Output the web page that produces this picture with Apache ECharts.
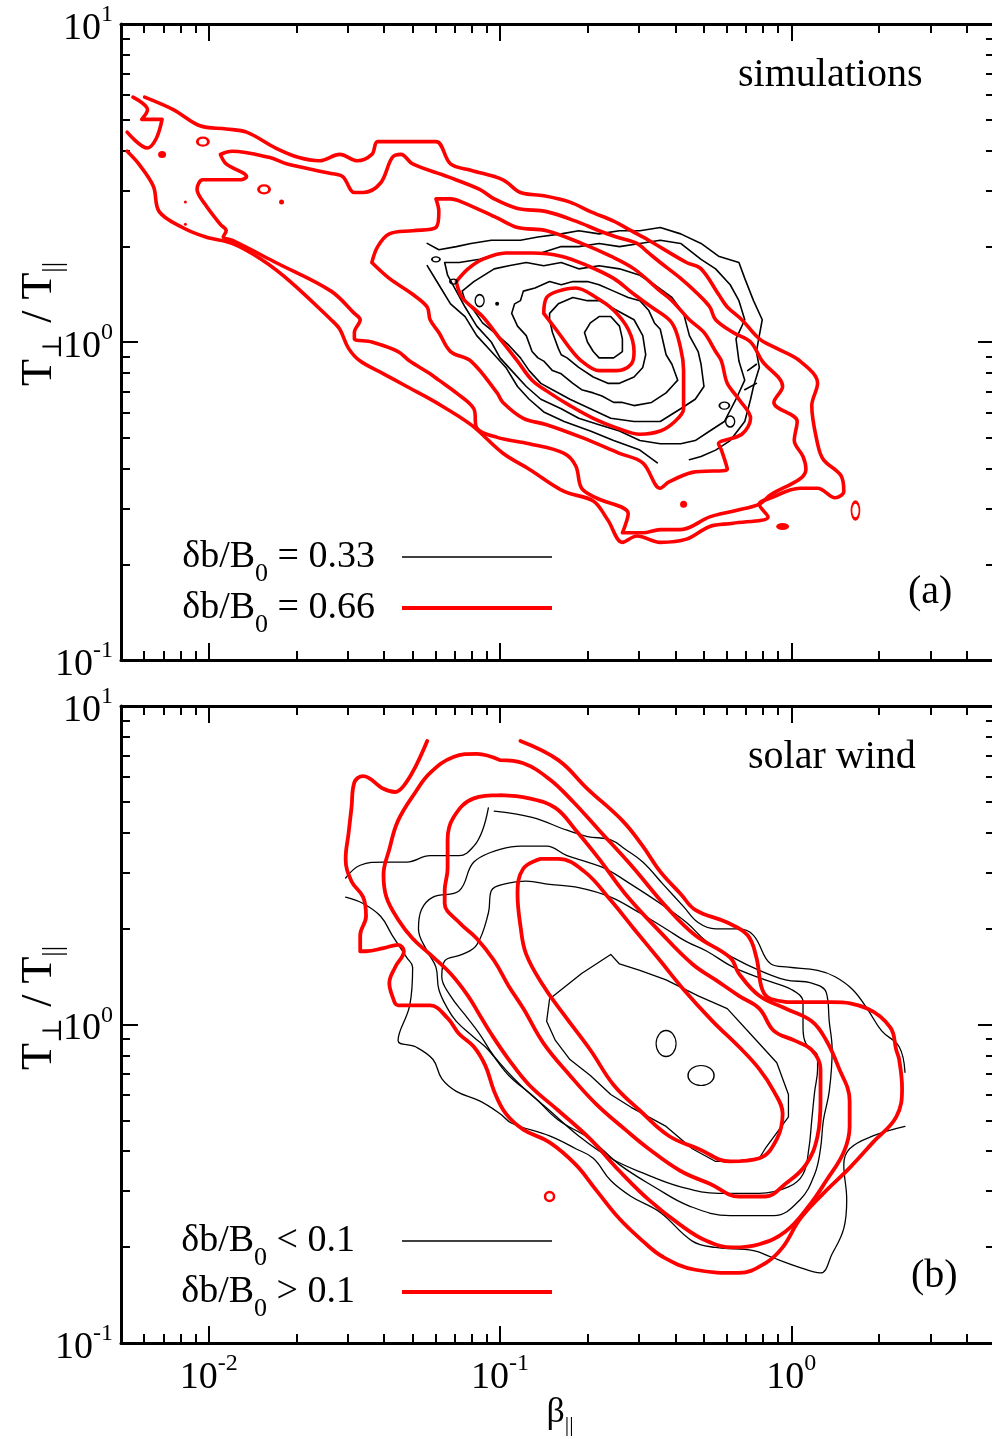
<!DOCTYPE html>
<html><head><meta charset="utf-8">
<script src="https://cdn.jsdelivr.net/npm/echarts@6/dist/echarts.min.js"></script>
<style>html,body{margin:0;padding:0;background:#fff}#c{width:992px;height:1439px}</style>
</head><body><div id="c"></div>
<script>
// ---------- axis tick values ----------
const xMajor = [0.01, 0.1, 1];
const xMinor = [0.006,0.007,0.008,0.009,0.02,0.03,0.04,0.05,0.06,0.07,0.08,0.09,0.2,0.3,0.4,0.5,0.6,0.7,0.8,0.9,2,3,4];
const yMajor = [0.1, 1, 10];
const yMinor = [0.2,0.3,0.4,0.5,0.6,0.7,0.8,0.9,2,3,4,5,6,7,8,9];

// ---------- legend names ----------
const simNames = ['δb/B0 = 0.33', 'δb/B0 = 0.66'];
const swNames  = ['δb/B0 < 0.1', 'δb/B0 > 0.1'];

// ---------- contour points, as [log10(beta_par), log10(Tperp/Tpar)] ----------
// panel (a) simulations, red (db/B0 = 0.66)
const simRedEdge = [[-2.26,0.77],[-2.21,0.73],[-2.23,0.70],[-2.16,0.70],[-2.18,0.64],[-2.21,0.61],[-2.28,0.66]];
const simRed1 = [[-2.22,0.77],[-2.12,0.73],[-2.03,0.68],[-1.94,0.67],[-1.87,0.66],[-1.77,0.61],[-1.69,0.58],[-1.62,0.57],[-1.55,0.59],[-1.49,0.57],[-1.44,0.59],[-1.42,0.63],[-1.35,0.63],[-1.22,0.63],[-1.17,0.56],[-1.10,0.54],[-0.99,0.51],[-0.93,0.47],[-0.85,0.46],[-0.76,0.44],[-0.69,0.41],[-0.61,0.38],[-0.55,0.35],[-0.49,0.32],[-0.36,0.25],[-0.31,0.23],[-0.25,0.15],[-0.22,0.11],[-0.17,0.07],[-0.11,0.01],[-0.05,-0.02],[0.03,-0.06],[0.09,-0.13],[0.07,-0.20],[0.09,-0.32],[0.11,-0.37],[0.17,-0.42],[0.18,-0.47],[0.15,-0.49],[0.09,-0.46],[0.03,-0.46],[-0.07,-0.49],[-0.11,-0.51],[-0.08,-0.55],[-0.20,-0.57],[-0.28,-0.58],[-0.36,-0.62],[-0.45,-0.63],[-0.53,-0.61],[-0.58,-0.63],[-0.63,-0.56],[-0.68,-0.50],[-0.78,-0.47],[-0.90,-0.40],[-0.99,-0.35],[-1.10,-0.26],[-1.22,-0.19],[-1.32,-0.14],[-1.40,-0.10],[-1.48,-0.06],[-1.52,-0.02],[-1.55,0.04],[-1.58,0.07],[-1.72,0.19],[-1.82,0.26],[-1.92,0.31],[-2.01,0.33],[-2.09,0.36],[-2.17,0.41],[-2.19,0.49],[-2.24,0.56],[-2.28,0.60]];
const simRed2 = [[-1.96,0.59],[-1.92,0.60],[-1.79,0.58],[-1.73,0.56],[-1.58,0.53],[-1.54,0.52],[-1.50,0.47],[-1.47,0.47],[-1.41,0.50],[-1.37,0.58],[-1.34,0.59],[-1.30,0.56],[-1.18,0.52],[-1.07,0.48],[-1.02,0.45],[-0.94,0.42],[-0.84,0.41],[-0.74,0.38],[-0.66,0.35],[-0.60,0.33],[-0.53,0.31],[-0.49,0.28],[-0.45,0.25],[-0.38,0.20],[-0.32,0.15],[-0.28,0.11],[-0.26,0.07],[-0.20,0.03],[-0.14,0.00],[-0.10,-0.06],[-0.03,-0.14],[-0.06,-0.19],[0.02,-0.25],[0.01,-0.31],[0.04,-0.36],[0.05,-0.40],[0.03,-0.43],[-0.07,-0.48],[-0.11,-0.51],[-0.19,-0.53],[-0.28,-0.55],[-0.38,-0.59],[-0.45,-0.59],[-0.51,-0.60],[-0.58,-0.60],[-0.56,-0.54],[-0.67,-0.49],[-0.72,-0.46],[-0.74,-0.39],[-0.78,-0.35],[-0.90,-0.32],[-1.01,-0.30],[-1.08,-0.27],[-1.09,-0.21],[-1.15,-0.16],[-1.21,-0.12],[-1.24,-0.10],[-1.31,-0.06],[-1.35,-0.03],[-1.44,0.00],[-1.50,0.01],[-1.50,0.03],[-1.48,0.07],[-1.50,0.09],[-1.58,0.16],[-1.77,0.25],[-1.92,0.32],[-1.95,0.33],[-1.94,0.35],[-1.96,0.37],[-2.01,0.43],[-2.04,0.48],[-2.02,0.51],[-1.89,0.51],[-1.87,0.52],[-1.94,0.56],[-1.96,0.59]];
const simRed3 = [[-1.44,0.25],[-1.42,0.30],[-1.38,0.34],[-1.30,0.35],[-1.22,0.36],[-1.21,0.41],[-1.22,0.45],[-1.17,0.45],[-1.13,0.44],[-1.01,0.39],[-0.94,0.36],[-0.84,0.35],[-0.72,0.31],[-0.62,0.27],[-0.54,0.23],[-0.45,0.16],[-0.41,0.13],[-0.35,0.07],[-0.30,0.03],[-0.26,-0.03],[-0.24,-0.06],[-0.22,-0.13],[-0.18,-0.18],[-0.14,-0.24],[-0.17,-0.29],[-0.25,-0.32],[-0.24,-0.34],[-0.22,-0.40],[-0.34,-0.41],[-0.42,-0.44],[-0.45,-0.46],[-0.51,-0.38],[-0.59,-0.35],[-0.72,-0.30],[-0.84,-0.26],[-0.92,-0.24],[-0.99,-0.19],[-1.01,-0.16],[-1.10,-0.06],[-1.17,-0.03],[-1.21,0.03],[-1.24,0.07],[-1.25,0.11],[-1.30,0.15],[-1.38,0.20],[-1.44,0.25]];
const simRed4 = [[-1.15,0.19],[-1.11,0.23],[-1.06,0.26],[-0.98,0.28],[-0.89,0.28],[-0.79,0.27],[-0.70,0.24],[-0.61,0.20],[-0.54,0.15],[-0.48,0.11],[-0.41,0.06],[-0.38,-0.02],[-0.37,-0.09],[-0.37,-0.16],[-0.37,-0.21],[-0.40,-0.25],[-0.45,-0.28],[-0.52,-0.29],[-0.60,-0.27],[-0.68,-0.24],[-0.76,-0.20],[-0.83,-0.16],[-0.89,-0.12],[-0.94,-0.06],[-1.00,0.01],[-1.06,0.08],[-1.13,0.14],[-1.15,0.19]];
const simRed5 = [[-0.85,0.09],[-0.84,0.14],[-0.80,0.16],[-0.74,0.17],[-0.67,0.14],[-0.61,0.10],[-0.56,0.04],[-0.54,-0.03],[-0.55,-0.07],[-0.60,-0.09],[-0.66,-0.09],[-0.72,-0.06],[-0.76,-0.02],[-0.80,0.03],[-0.85,0.09]];
const simRedRings = [[-2.02,0.63],[-1.81,0.48],[0.22,-0.53]];
const simRedSpots = [[-2.16,0.59],[-1.75,0.44],[-2.08,0.44],[-2.08,0.37],[-0.37,-0.51],[-0.03,-0.58]];

// panel (a) simulations, black (db/B0 = 0.33)
const simBlack1 = [[-0.71,0.03],[-0.69,0.06],[-0.66,0.08],[-0.62,0.08],[-0.59,0.05],[-0.58,0.01],[-0.58,-0.03],[-0.61,-0.05],[-0.66,-0.05],[-0.68,-0.03],[-0.70,0.00],[-0.71,0.03]];
const simBlack2 = [[-0.83,0.09],[-0.80,0.12],[-0.75,0.14],[-0.70,0.13],[-0.66,0.13],[-0.60,0.10],[-0.54,0.07],[-0.51,0.02],[-0.50,-0.04],[-0.51,-0.08],[-0.54,-0.11],[-0.59,-0.13],[-0.63,-0.13],[-0.68,-0.11],[-0.73,-0.08],[-0.77,-0.05],[-0.79,-0.04],[-0.80,-0.02],[-0.82,0.03],[-0.83,0.07],[-0.83,0.09]];
const simBlack3 = [[-0.96,0.09],[-0.95,0.12],[-0.93,0.13],[-0.92,0.16],[-0.88,0.17],[-0.83,0.19],[-0.79,0.18],[-0.75,0.19],[-0.70,0.19],[-0.66,0.18],[-0.61,0.16],[-0.56,0.14],[-0.52,0.13],[-0.49,0.10],[-0.47,0.06],[-0.45,0.04],[-0.44,0.00],[-0.43,-0.04],[-0.41,-0.07],[-0.39,-0.12],[-0.41,-0.14],[-0.43,-0.16],[-0.48,-0.19],[-0.54,-0.20],[-0.58,-0.19],[-0.61,-0.19],[-0.65,-0.17],[-0.68,-0.16],[-0.72,-0.15],[-0.75,-0.13],[-0.79,-0.10],[-0.82,-0.09],[-0.85,-0.06],[-0.87,-0.05],[-0.89,-0.03],[-0.91,0.02],[-0.94,0.05],[-0.96,0.09]];
const simBlack4 = [[-1.13,0.16],[-1.09,0.19],[-1.02,0.23],[-0.97,0.24],[-0.91,0.25],[-0.85,0.24],[-0.79,0.25],[-0.73,0.23],[-0.66,0.24],[-0.59,0.23],[-0.52,0.21],[-0.47,0.18],[-0.41,0.14],[-0.37,0.09],[-0.35,0.02],[-0.32,-0.03],[-0.31,-0.07],[-0.30,-0.14],[-0.33,-0.18],[-0.38,-0.21],[-0.45,-0.25],[-0.54,-0.25],[-0.62,-0.24],[-0.69,-0.21],[-0.76,-0.18],[-0.82,-0.15],[-0.86,-0.13],[-0.90,-0.09],[-0.93,-0.05],[-0.97,-0.01],[-1.02,0.03],[-1.06,0.06],[-1.09,0.10],[-1.12,0.13],[-1.13,0.16]];
const simBlack5 = [[-1.19,0.25],[-1.14,0.25],[-1.07,0.26],[-1.00,0.28],[-0.93,0.28],[-0.86,0.28],[-0.79,0.30],[-0.73,0.30],[-0.66,0.31],[-0.59,0.30],[-0.52,0.31],[-0.45,0.32],[-0.38,0.31],[-0.31,0.26],[-0.26,0.23],[-0.21,0.18],[-0.18,0.13],[-0.16,0.07],[-0.19,0.01],[-0.18,-0.06],[-0.16,-0.12],[-0.19,-0.18],[-0.23,-0.25],[-0.28,-0.28],[-0.33,-0.31],[-0.38,-0.32],[-0.45,-0.32],[-0.52,-0.31],[-0.59,-0.28],[-0.66,-0.26],[-0.73,-0.24],[-0.79,-0.21],[-0.86,-0.18],[-0.91,-0.14],[-0.96,-0.09],[-1.00,-0.05],[-1.03,0.00],[-1.08,0.05],[-1.12,0.11],[-1.15,0.16],[-1.18,0.21],[-1.19,0.25]];
const simBlack6a = [[-1.25,0.31],[-1.21,0.29],[-1.15,0.30],[-1.10,0.31],[-1.03,0.32],[-0.98,0.32],[-0.93,0.32],[-0.87,0.33],[-0.79,0.34],[-0.73,0.35],[-0.66,0.34],[-0.59,0.35],[-0.52,0.35],[-0.45,0.36],[-0.38,0.34],[-0.31,0.31],[-0.25,0.27],[-0.18,0.25],[-0.16,0.20],[-0.13,0.13],[-0.10,0.07],[-0.11,0.02],[-0.12,-0.03],[-0.11,-0.08],[-0.13,-0.14],[-0.14,-0.18],[-0.16,-0.25],[-0.21,-0.31],[-0.26,-0.34],[-0.31,-0.36],[-0.35,-0.37]];
const simBlack6b = [[-1.25,0.24],[-1.21,0.18],[-1.17,0.12],[-1.12,0.08],[-1.08,0.02],[-1.03,-0.03],[-0.98,-0.08],[-0.94,-0.14],[-0.90,-0.18],[-0.85,-0.22],[-0.78,-0.25],[-0.69,-0.28],[-0.61,-0.31],[-0.52,-0.34],[-0.46,-0.38]];
const simBlackDash1 = [[-0.15,-0.09],[-0.12,-0.07]];
const simBlackDash2 = [[-0.16,-0.15],[-0.12,-0.13]];
const simBlackRings = [[-1.22,0.26],[-1.16,0.19],[-1.07,0.13],[-0.21,-0.25],[-0.23,-0.20]];
const simBlackSpots = [[-1.01,0.12]];

// panel (b) solar wind, red (db/B0 > 0.1)
const swRed1 = [[-1.25,0.89],[-1.29,0.81],[-1.33,0.75],[-1.36,0.73],[-1.40,0.74],[-1.47,0.78],[-1.50,0.76],[-1.51,0.68],[-1.52,0.60],[-1.53,0.52],[-1.51,0.45],[-1.47,0.40],[-1.46,0.34],[-1.48,0.28],[-1.48,0.23],[-1.46,0.23],[-1.40,0.24],[-1.35,0.25],[-1.33,0.23],[-1.36,0.18],[-1.38,0.13],[-1.37,0.09],[-1.35,0.06],[-1.30,0.06],[-1.24,0.06],[-1.18,0.02],[-1.14,-0.03],[-1.09,-0.07],[-1.05,-0.13],[-1.02,-0.21],[-0.98,-0.28],[-0.92,-0.33],[-0.83,-0.37],[-0.74,-0.44],[-0.67,-0.52],[-0.59,-0.61],[-0.51,-0.68],[-0.44,-0.73],[-0.33,-0.77],[-0.18,-0.78],[-0.09,-0.75],[-0.03,-0.70],[0.03,-0.61],[0.11,-0.53],[0.20,-0.45],[0.28,-0.37],[0.36,-0.29],[0.38,-0.20],[0.37,-0.11],[0.36,-0.08],[0.34,-0.01],[0.26,0.05],[0.14,0.07],[0.03,0.07],[-0.07,0.08],[-0.10,0.11],[-0.12,0.21],[-0.15,0.28],[-0.22,0.32],[-0.33,0.36],[-0.38,0.41],[-0.45,0.48],[-0.51,0.56],[-0.58,0.64],[-0.70,0.74],[-0.80,0.83],[-0.93,0.89]];
const swRed2 = [[-1.00,0.83],[-1.08,0.85],[-1.16,0.84],[-1.24,0.79],[-1.29,0.73],[-1.35,0.64],[-1.38,0.55],[-1.40,0.47],[-1.39,0.40],[-1.35,0.33],[-1.30,0.27],[-1.24,0.22],[-1.17,0.16],[-1.11,0.09],[-1.07,0.03],[-1.03,-0.03],[-0.97,-0.11],[-0.90,-0.19],[-0.80,-0.27],[-0.69,-0.36],[-0.59,-0.46],[-0.49,-0.55],[-0.38,-0.63],[-0.29,-0.68],[-0.20,-0.70],[-0.11,-0.69],[-0.02,-0.65],[0.06,-0.57],[0.12,-0.49],[0.18,-0.40],[0.20,-0.32],[0.20,-0.24],[0.16,-0.13],[0.12,-0.05],[0.07,0.01],[-0.02,0.05],[-0.11,0.09],[-0.18,0.16],[-0.21,0.21],[-0.33,0.28],[-0.43,0.37],[-0.55,0.50],[-0.66,0.61],[-0.75,0.70],[-0.83,0.77],[-0.92,0.82],[-1.00,0.83]];
const swRed3 = [[-1.00,0.72],[-1.09,0.71],[-1.16,0.65],[-1.18,0.58],[-1.18,0.49],[-1.19,0.42],[-1.19,0.38],[-1.14,0.32],[-1.08,0.27],[-1.02,0.20],[-0.97,0.12],[-0.92,0.05],[-0.85,-0.06],[-0.76,-0.16],[-0.67,-0.25],[-0.57,-0.33],[-0.49,-0.39],[-0.38,-0.46],[-0.28,-0.50],[-0.18,-0.54],[-0.09,-0.54],[-0.02,-0.50],[0.05,-0.44],[0.09,-0.35],[0.10,-0.24],[0.10,-0.14],[0.07,-0.08],[0.01,-0.05],[-0.06,-0.02],[-0.11,0.05],[-0.18,0.09],[-0.26,0.14],[-0.34,0.19],[-0.45,0.29],[-0.57,0.41],[-0.66,0.52],[-0.74,0.61],[-0.81,0.68],[-0.90,0.71],[-1.00,0.72]];
const swRed4 = [[-0.86,0.52],[-0.92,0.49],[-0.94,0.41],[-0.93,0.31],[-0.91,0.22],[-0.85,0.12],[-0.78,0.03],[-0.69,-0.08],[-0.61,-0.19],[-0.52,-0.27],[-0.42,-0.35],[-0.32,-0.39],[-0.21,-0.43],[-0.11,-0.42],[-0.05,-0.36],[-0.03,-0.28],[-0.06,-0.21],[-0.11,-0.14],[-0.18,-0.07],[-0.27,0.01],[-0.37,0.11],[-0.45,0.20],[-0.54,0.30],[-0.62,0.39],[-0.71,0.48],[-0.80,0.52],[-0.86,0.52]];
const swRedRings = [[-0.83,-0.54]];

// panel (b) solar wind, black (db/B0 < 0.1)
const swBlackTop1 = [[-1.53,0.46],[-1.48,0.50],[-1.40,0.51],[-1.32,0.51],[-1.24,0.53],[-1.14,0.53],[-1.09,0.56],[-1.06,0.61],[-1.04,0.68]];
const swBlackTop2 = [[-1.02,0.67],[-0.89,0.65],[-0.77,0.61],[-0.70,0.59],[-0.62,0.58],[-0.57,0.55],[-0.51,0.51],[-0.44,0.44],[-0.37,0.37],[-0.32,0.32],[-0.26,0.30],[-0.18,0.30],[-0.13,0.28],[-0.07,0.19],[-0.01,0.18],[0.09,0.17],[0.15,0.15],[0.21,0.11],[0.26,0.05],[0.31,-0.02],[0.37,-0.07],[0.39,-0.15]];
const swBlackBottom = [[-1.53,0.40],[-1.47,0.38],[-1.41,0.34],[-1.37,0.28],[-1.32,0.21],[-1.30,0.18],[-1.31,0.06],[-1.35,-0.05],[-1.29,-0.07],[-1.23,-0.11],[-1.20,-0.17],[-1.15,-0.21],[-1.07,-0.24],[-1.00,-0.28],[-0.96,-0.31],[-0.83,-0.35],[-0.74,-0.39],[-0.68,-0.42],[-0.62,-0.49],[-0.55,-0.54],[-0.45,-0.59],[-0.34,-0.68],[-0.26,-0.70],[-0.13,-0.71],[-0.07,-0.73],[0.02,-0.76],[0.10,-0.78],[0.14,-0.72],[0.18,-0.64],[0.19,-0.55],[0.18,-0.44],[0.20,-0.39],[0.28,-0.35],[0.39,-0.32]];
const swBlack2 = [[-1.00,0.55],[-1.09,0.51],[-1.14,0.42],[-1.23,0.40],[-1.27,0.36],[-1.28,0.30],[-1.25,0.23],[-1.22,0.18],[-1.21,0.11],[-1.18,0.05],[-1.15,0.01],[-1.09,-0.04],[-1.04,-0.08],[-0.97,-0.16],[-0.88,-0.23],[-0.80,-0.30],[-0.69,-0.36],[-0.59,-0.44],[-0.47,-0.51],[-0.35,-0.57],[-0.21,-0.60],[-0.06,-0.60],[0.03,-0.55],[0.08,-0.47],[0.10,-0.39],[0.11,-0.30],[0.13,-0.21],[0.14,-0.08],[0.13,0.01],[0.12,0.10],[0.07,0.13],[-0.02,0.14],[-0.11,0.17],[-0.20,0.21],[-0.29,0.26],[-0.36,0.32],[-0.45,0.38],[-0.55,0.44],[-0.64,0.49],[-0.70,0.51],[-0.77,0.53],[-0.84,0.56],[-0.93,0.56],[-1.00,0.55]];
const swBlack3 = [[-0.99,0.44],[-1.03,0.42],[-1.04,0.35],[-1.08,0.25],[-1.13,0.22],[-1.19,0.20],[-1.20,0.15],[-1.17,0.09],[-1.12,0.03],[-1.07,-0.03],[-1.02,-0.10],[-0.93,-0.19],[-0.83,-0.27],[-0.73,-0.35],[-0.62,-0.42],[-0.50,-0.47],[-0.38,-0.51],[-0.25,-0.53],[-0.11,-0.53],[-0.01,-0.51],[0.04,-0.47],[0.06,-0.39],[0.07,-0.30],[0.08,-0.21],[0.09,-0.14],[0.09,-0.10],[0.05,-0.06],[0.04,-0.01],[0.04,0.07],[0.00,0.11],[-0.09,0.14],[-0.20,0.18],[-0.29,0.23],[-0.36,0.26],[-0.43,0.30],[-0.52,0.35],[-0.62,0.40],[-0.73,0.43],[-0.83,0.44],[-0.91,0.45],[-0.99,0.44]];
const swBlack4 = [[-0.83,0.08],[-0.72,0.16],[-0.62,0.22],[-0.59,0.19],[-0.52,0.17],[-0.43,0.14],[-0.32,0.09],[-0.22,0.05],[-0.13,-0.04],[-0.05,-0.12],[-0.01,-0.22],[-0.01,-0.29],[-0.09,-0.39],[-0.11,-0.42],[-0.20,-0.43],[-0.26,-0.43],[-0.34,-0.39],[-0.43,-0.32],[-0.55,-0.26],[-0.62,-0.22],[-0.69,-0.16],[-0.76,-0.11],[-0.81,-0.05],[-0.84,0.01],[-0.83,0.08]];
const swBlackRings = [[-0.43,-0.06],[-0.31,-0.16]];

// ---------- styles ----------
const FONT = '"Liberation Serif", "DejaVu Serif", serif';
const RED = '#ff0000', BLK = '#000000';
const toVal = pts => pts.map(p => [Math.pow(10, p[0]), Math.pow(10, p[1])]);

const series = [];
function addLine(pts, g, name, color, width, smooth) {
  series.push({ type: 'line', name: name, xAxisIndex: g * 4, yAxisIndex: g * 4, data: toVal(pts),
    symbol: 'none', showSymbol: false, smooth: smooth, lineStyle: { color: color, width: width, join: 'round', cap: 'round' },
    itemStyle: { color: color }, silent: true, z: color === RED ? 4 : 3, animation: false });
}
function addMarks(pts, g, name, color, sizes, filled, bw) {
  series.push({ type: 'scatter', name: name, xAxisIndex: g * 4, yAxisIndex: g * 4, data: toVal(pts),
    symbol: 'circle', symbolSize: (v, p) => sizes[p.dataIndex],
    itemStyle: { color: filled ? color : 'rgba(0,0,0,0)', borderColor: color, borderWidth: filled ? 0 : bw, opacity: 1 },
    silent: true, z: 5, animation: false });
}

// panel a
[simBlack1, simBlack2, simBlack3, simBlack4, simBlack5, simBlack6a, simBlack6b, simBlackDash1, simBlackDash2]
  .forEach(c => addLine(c, 0, simNames[0], BLK, 1.6, false));
addMarks(simBlackRings, 0, 'simBlackRings', BLK, [[8,5],[7,5],[9,12],[9,11],[10,7]], false, 1.5);
addMarks(simBlackSpots, 0, 'simBlackSpots', BLK, [[4,4]], true, 0);
[simRed1, simRed2, simRed3, simRed4, simRed5, simRedEdge]
  .forEach(c => addLine(c, 0, simNames[1], RED, 3.6, 0.35));
addMarks(simRedRings, 0, 'simRedRings', RED, [[11,8],[11,8],[8,17]], false, 2.5);
addMarks(simRedSpots, 0, 'simRedSpots', RED, [[8,7],[5,5],[3,3],[3,3],[7,7],[13,7]], true, 0);

// panel b
[swBlackTop1, swBlackTop2, swBlackBottom, swBlack2, swBlack3].forEach(c => addLine(c, 1, swNames[0], BLK, 1.3, 0.4));
addLine(swBlack4, 1, swNames[0], BLK, 1.3, false);
addMarks(swBlackRings, 1, 'swBlackRings', BLK, [[20,26],[26,20]], false, 1.3);
[swRed1, swRed2, swRed3, swRed4].forEach(c => addLine(c, 1, swNames[1], RED, 3.8, 0.4));
addMarks(swRedRings, 1, 'swRedRings', RED, [[9,9]], false, 2.5);

// ---------- axes ----------
function powLabel(v) { const e = Math.round(Math.log10(v)); return '{b|10}{s|' + e + '}'; }
const xRich = { b: { fontSize: 38, fontFamily: FONT, color: BLK, lineHeight: 40 },
                s: { fontSize: 24, fontFamily: FONT, color: BLK, lineHeight: 40, padding: [0, 0, 28, 0] } };
const yRich = { b: { fontSize: 38, fontFamily: FONT, color: BLK, lineHeight: 40, padding: [10, 0, 0, 0] },
                s: { fontSize: 24, fontFamily: FONT, color: BLK, lineHeight: 40, padding: [0, 0, 18, 0] } };

function axisSet(dim, g, withLabels) {
  const isX = dim === 'x';
  const base = { gridIndex: g, type: 'log', logBase: 10,
    min: isX ? 0.005 : 0.1, max: isX ? 5 : 10,
    splitLine: { show: false }, minorTick: { show: false }, minorSplitLine: { show: false } };
  const major = isX ? xMajor : yMajor, minor = isX ? xMinor : yMinor;
  const p1 = isX ? 'bottom' : 'left', p2 = isX ? 'top' : 'right';
  const line = { show: true, onZero: false, lineStyle: { color: BLK, width: 3 } };
  const tickMaj = { show: true, inside: true, length: 17, customValues: major, lineStyle: { color: BLK, width: 2 } };
  const tickMin = { show: true, inside: true, length: 9, customValues: minor, lineStyle: { color: BLK, width: 2 } };
  const lab = withLabels ? { show: true, customValues: major, formatter: powLabel, margin: isX ? 15 : 8,
      rich: isX ? xRich : yRich, color: BLK } : { show: false };
  return [
    Object.assign({}, base, { position: p1, axisLine: line, axisTick: tickMaj, axisLabel: lab }),
    Object.assign({}, base, { position: p2, axisLine: line, axisTick: tickMaj, axisLabel: { show: false } }),
    Object.assign({}, base, { position: p1, axisLine: { show: false }, axisTick: tickMin, axisLabel: { show: false } }),
    Object.assign({}, base, { position: p2, axisLine: { show: false }, axisTick: tickMin, axisLabel: { show: false } })
  ];
}

// ---------- legends ----------
function legendRich(gap) {
  return {
    n: { fontSize: 38, fontFamily: FONT, color: BLK, lineHeight: 40 },
    s: { fontSize: 26, fontFamily: FONT, color: BLK, lineHeight: 40, padding: [34, 0, 0, 0] },
    g: { width: gap }
  };
}
function legendText(name) {
  const rest = name.slice(name.indexOf('B0') + 2);
  return '{n|δb/B}{s|0}{n|' + rest + '}{g| }';
}
function legendAt(name, top, lineW, gap) {
  return { data: [name], orient: 'vertical', right: 440, top: top, itemWidth: 150, itemHeight: lineW,
    icon: 'rect', itemGap: 0, padding: 0, align: 'right', selectedMode: false, formatter: legendText,
    textStyle: { rich: legendRich(gap), color: BLK } };
}

const nameRich = {
  t: { fontSize: 44, fontFamily: FONT, color: BLK, lineHeight: 46 },
  s: { fontSize: 27, fontFamily: FONT, color: BLK, lineHeight: 46, padding: [30, 0, 0, 0] }
};
const txt = (s, x, y) => ({ type: 'text', x: x, y: y, silent: true,
  style: { text: s, font: '40px ' + FONT, fill: BLK, align: 'left', verticalAlign: 'middle', textAlign: 'left', textVerticalAlign: 'middle' } });
const yName = (y) => ({ type: 'text', x: 39, y: y, rotation: Math.PI / 2, silent: true,
  style: { text: '{t|T}{s|⊥}{t| / T}{s|||}', rich: nameRich, align: 'center', verticalAlign: 'middle', textAlign: 'center', textVerticalAlign: 'middle' } });

const option = {
  backgroundColor: '#ffffff',
  animation: false,
  textStyle: { fontFamily: FONT },
  grid: [
    { left: 121, top: 24, width: 874, height: 636, containLabel: false, outerBoundsMode: 'none' },
    { left: 121, top: 706, width: 874, height: 637, containLabel: false, outerBoundsMode: 'none' }
  ],
  xAxis: axisSet('x', 0, false).concat(axisSet('x', 1, true)),
  yAxis: axisSet('y', 0, true).concat(axisSet('y', 1, true)),
  legend: [legendAt(simNames[0], 527, 1.6, 22), legendAt(simNames[1], 578, 4, 22),
           legendAt(swNames[0], 1211, 1.5, 42), legendAt(swNames[1], 1262, 4, 42)],
  graphic: [
    txt('simulations', 738, 75),
    txt('(a)', 908, 592),
    txt('solar wind', 748, 757),
    txt('(b)', 911, 1276),
    yName(324),
    yName(1008),
    { type: 'text', x: 560, y: 1413, silent: true,
      style: { text: '{t|β}{s|||}', rich: { t: { fontSize: 36, fontFamily: FONT, color: BLK, lineHeight: 40 },
        s: { fontSize: 22, fontFamily: FONT, color: BLK, lineHeight: 40, padding: [24, 0, 0, 0] } },
        align: 'center', verticalAlign: 'middle', textAlign: 'center', textVerticalAlign: 'middle' } }
  ],
  series: series
};

const chart = echarts.init(document.getElementById('c'), null, { renderer: 'canvas', width: 992, height: 1439, devicePixelRatio: 1 });
chart.setOption(option);
</script></body></html>
